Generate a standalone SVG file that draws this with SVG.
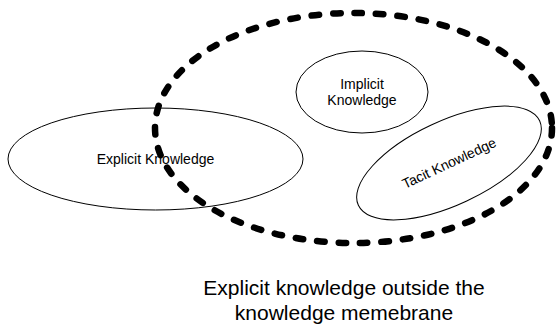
<svg xmlns="http://www.w3.org/2000/svg" width="556" height="328" viewBox="0 0 556 328">
<style>
.node{fill:none;stroke:#000;stroke-width:1}
.lbl{font-family:"Liberation Sans",Arial,sans-serif;font-size:14px;fill:#000;text-anchor:middle}
.cap{font-family:"Liberation Sans",Arial,sans-serif;font-size:21px;fill:#000;text-anchor:middle}
.membrane{fill:none;stroke:#000;stroke-width:6.5;stroke-linecap:round;stroke-dasharray:7.5 14}
</style>
<rect width="556" height="328" fill="#fff"/>
<g id="explicit">
<ellipse class="node" cx="155.5" cy="159" rx="147.5" ry="51"/>
<text class="lbl" x="155.5" y="164">Explicit Knowledge</text>
</g>
<g id="implicit">
<ellipse class="node" cx="362" cy="92" rx="66" ry="41"/>
<text class="lbl" x="362" y="89">Implicit</text>
<text class="lbl" x="362" y="105">Knowledge</text>
</g>
<g id="tacit" transform="translate(449 163) rotate(-25)">
<ellipse class="node" cx="0" cy="0" rx="100" ry="42"/>
<text class="lbl" x="0" y="5">Tacit Knowledge</text>
</g>
<g id="membrane">
<ellipse class="membrane" cx="353.5" cy="128" rx="198.5" ry="115"/>
</g>
<g id="caption">
<text class="cap" x="344" y="295">Explicit knowledge outside the</text>
<text class="cap" x="344" y="320">knowledge memebrane</text>
</g>
</svg>
